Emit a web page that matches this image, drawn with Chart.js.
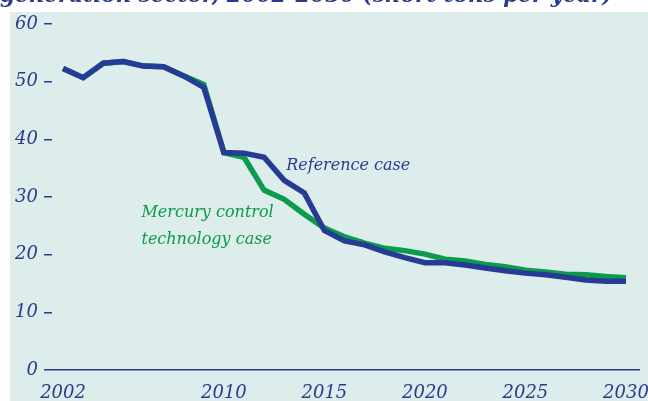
<!DOCTYPE html>
<html>
<head>
<meta charset="utf-8">
<script src="https://cdn.jsdelivr.net/npm/chart.js@4/dist/chart.umd.min.js"></script>
<style>
  html, body { margin: 0; padding: 0; background: #ffffff; }
  #wrap { width: 648px; height: 401px; position: relative; }
</style>
</head>
<body>
<div id="wrap"><canvas id="c" width="648" height="401"></canvas></div>
<script>
const years = [2002,2003,2004,2005,2006,2007,2008,2009,2010,2011,2012,2013,2014,2015,2016,2017,2018,2019,2020,2021,2022,2023,2024,2025,2026,2027,2028,2029,2030];
const referenceCase = [52.3,50.7,53.2,53.5,52.7,52.6,51.0,49.0,37.7,37.6,36.9,32.9,30.7,24.2,22.4,21.7,20.5,19.5,18.6,18.6,18.2,17.7,17.2,16.8,16.5,16.1,15.6,15.4,15.4];
const mercuryControlCase = [52.3,50.7,53.2,53.5,52.7,52.6,51.0,49.5,37.7,36.9,31.2,29.6,27.0,24.6,23.1,22.0,21.1,20.7,20.1,19.2,18.9,18.3,17.9,17.3,17.0,16.6,16.5,16.2,16.0];
const xTickYears = [2002,2010,2015,2020,2025,2030];
const yTicks = [0,10,20,30,40,50,60];
const titleText = "generation sector, 2002-2030 (short tons per year)";
const seriesNames = ["Reference case", "Mercury control technology case"];

const BLUE = "#263b94";
const TEXT_BLUE = "#2b3a8c";
const GREEN = "#0c9a4b";
const TEAL = "#dcedec";
const FONT = "'DejaVu Serif', serif";

const bgPlugin = {
  id: 'bg',
  beforeDraw(chart) {
    const ctx = chart.ctx;
    ctx.save();
    ctx.fillStyle = "#ffffff";
    ctx.fillRect(0, 0, chart.width, chart.height);
    ctx.fillStyle = TEAL;
    ctx.fillRect(10, 12, chart.width - 10, chart.height - 12);
    ctx.fillStyle = TEXT_BLUE;
    ctx.font = "italic bold 21.5px " + FONT;
    ctx.textBaseline = "alphabetic";
    ctx.textAlign = "left";
    ctx.fillText(titleText, 0, 2);
    ctx.restore();
  },
  afterDatasetsDraw(chart) {
    const ctx = chart.ctx;
    const xs = chart.scales.x, ys = chart.scales.y;
    ctx.save();
    ctx.font = "italic 16px " + FONT;
    ctx.textBaseline = "middle";
    ctx.textAlign = "left";
    ctx.fillStyle = TEXT_BLUE;
    ctx.fillText("Reference case", xs.getPixelForValue(2013.1), ys.getPixelForValue(35.4));
    ctx.fillStyle = GREEN;
    ctx.fillText("Mercury control", xs.getPixelForValue(2005.9), ys.getPixelForValue(27.2));
    ctx.fillText("technology case", xs.getPixelForValue(2005.9), ys.getPixelForValue(22.6));
    ctx.restore();
  }
};

new Chart(document.getElementById('c'), {
  type: 'line',
  data: {
    datasets: [
      {
        label: seriesNames[0],
        data: years.map((y, i) => ({x: y, y: referenceCase[i]})),
        borderColor: BLUE,
        borderWidth: 5.5,
        pointRadius: 0,
        tension: 0,
        fill: false,
        borderJoinStyle: 'miter',
        borderCapStyle: 'butt'
      },
      {
        label: seriesNames[1],
        data: years.map((y, i) => ({x: y, y: mercuryControlCase[i]})),
        borderColor: GREEN,
        borderWidth: 5.5,
        pointRadius: 0,
        tension: 0,
        fill: false,
        borderJoinStyle: 'miter',
        borderCapStyle: 'butt'
      }
    ]
  },
  options: {
    responsive: false,
    animation: false,
    layout: { padding: { top: 24, right: 8, left: 0, bottom: 0 } },
    plugins: { legend: { display: false }, tooltip: { enabled: false } },
    scales: {
      x: {
        type: 'linear',
        min: 2001.45,
        max: 2030.7,
        afterBuildTicks(axis) { axis.ticks = xTickYears.map(v => ({value: v})); },
        afterFit(axis) { axis.height = 31; axis.paddingLeft = 0; axis.paddingRight = 0; },
        grid: { display: false },
        border: { display: false },
        ticks: {
          color: TEXT_BLUE,
          font: { family: FONT, size: 18, style: 'italic' },
          padding: 5,
          maxRotation: 0,
          autoSkip: false,
          callback: v => String(v)
        }
      },
      y: {
        min: 0,
        max: 60,
        afterBuildTicks(axis) { axis.ticks = yTicks.map(v => ({value: v})); },
        afterFit(axis) { axis.width = 52; axis.paddingTop = 0; axis.paddingBottom = 0; },
        grid: {
          color: ctx => (ctx.tick && ctx.tick.value === 0) ? BLUE : 'rgba(0,0,0,0)',
          tickColor: BLUE,
          tickLength: 8,
          lineWidth: 1.5,
          drawOnChartArea: true
        },
        border: { display: false },
        ticks: {
          color: TEXT_BLUE,
          font: { family: FONT, size: 18, style: 'italic' },
          padding: 6,
          callback: v => String(v)
        }
      }
    }
  },
  plugins: [bgPlugin]
});
</script>
</body>
</html>
